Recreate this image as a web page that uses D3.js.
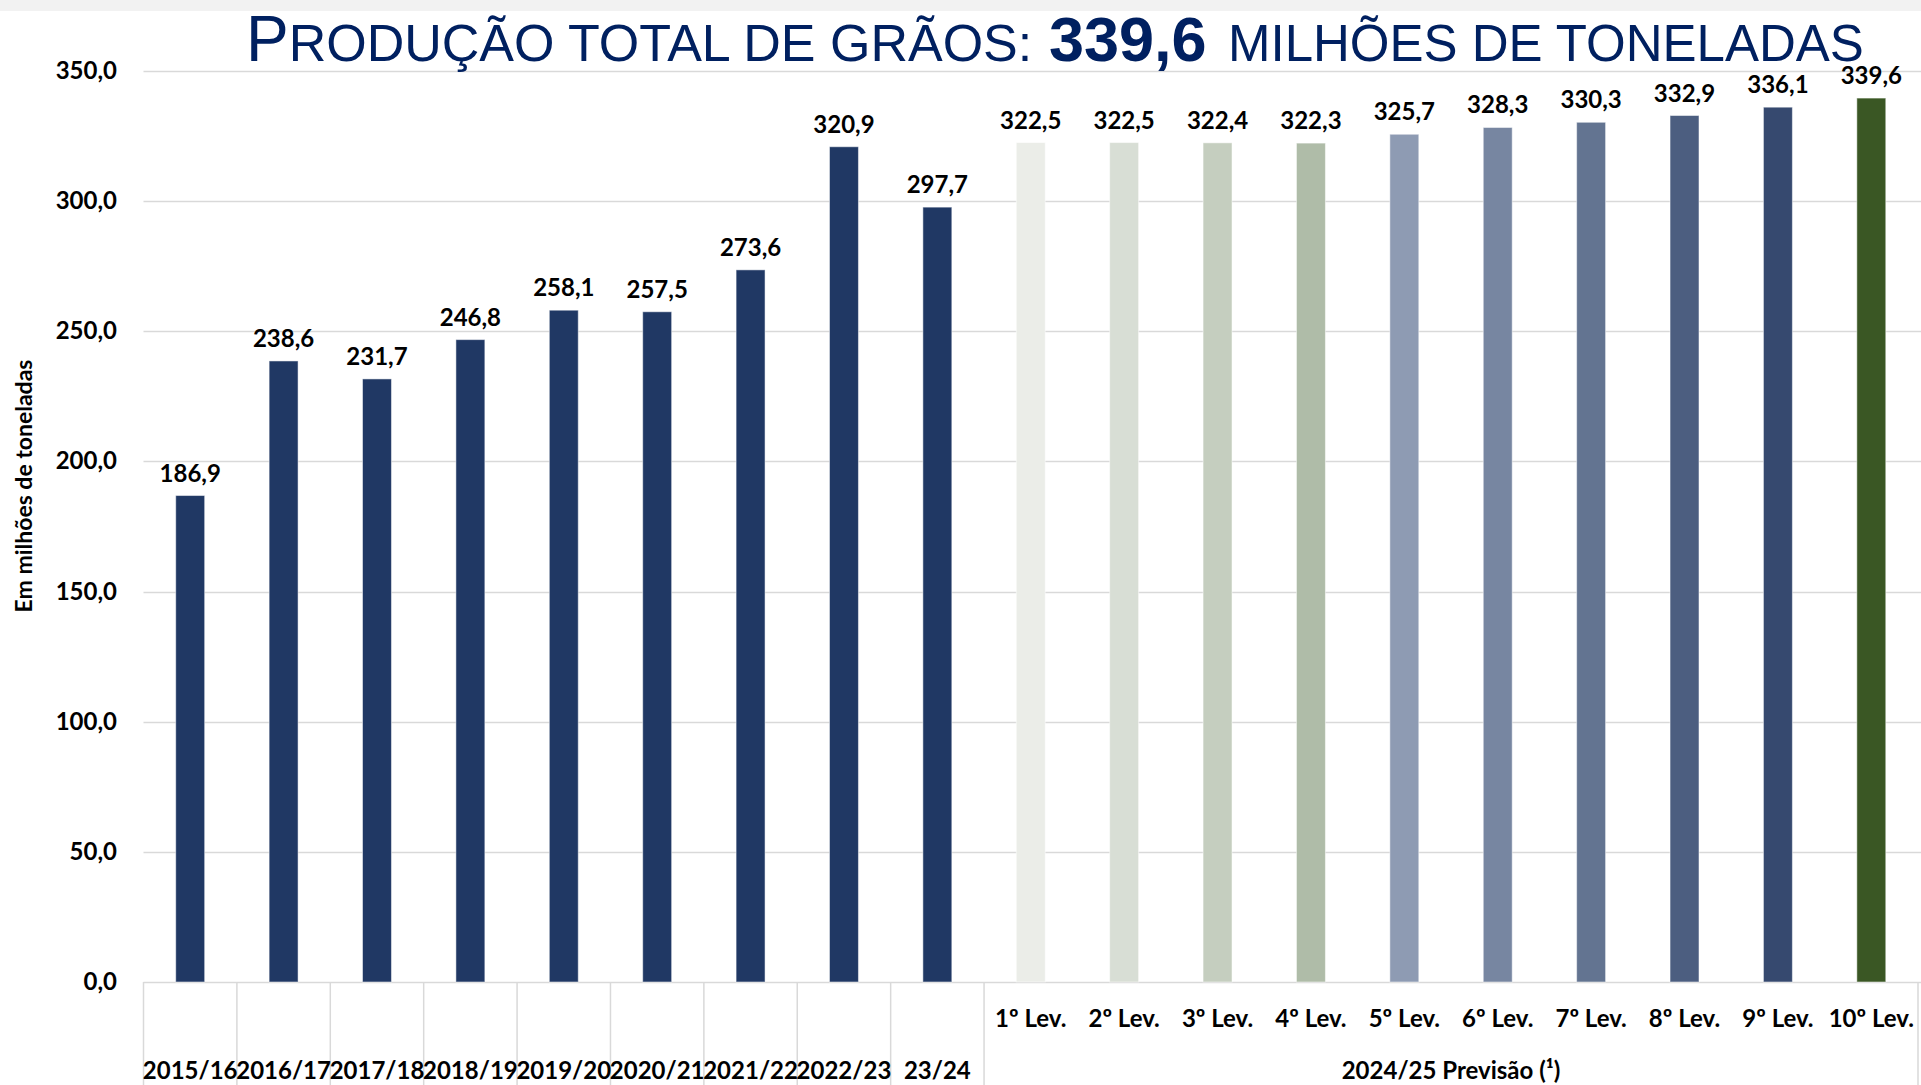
<!DOCTYPE html>
<html>
<head>
<meta charset="utf-8">
<script src="https://cdn.jsdelivr.net/npm/d3@7"></script>
<style>
  html, body { margin: 0; padding: 0; background: #fff; overflow: hidden; }
  svg { display: block; }
</style>
</head>
<body>
<svg id="chart"></svg>
<script>
// safras históricas + levantamentos 2024/25
var categories = ["2015/16", "2016/17", "2017/18", "2018/19", "2019/20", "2020/21", "2021/22", "2022/23", "23/24",
                  "1º Lev.", "2º Lev.", "3º Lev.", "4º Lev.", "5º Lev.", "6º Lev.", "7º Lev.", "8º Lev.", "9º Lev.", "10º Lev."];
var values = [186.9, 238.6, 231.7, 246.8, 258.1, 257.5, 273.6, 320.9, 297.7,
              322.5, 322.5, 322.4, 322.3, 325.7, 328.3, 330.3, 332.9, 336.1, 339.6];
var barColors = ["#203864", "#203864", "#203864", "#203864", "#203864", "#203864", "#203864", "#203864", "#203864",
                 "#EBEDE8", "#D8DED5", "#C5CEBF", "#AFBCA8", "#8E9BB3", "#7786A1", "#637491", "#4C5E80", "#36496F", "#3A5724"];
var historicCount = 9;
var groupLabel = "2024/25 Previsão (¹)";
var yTicks = [0, 50, 100, 150, 200, 250, 300, 350];

var W = 1921, H = 1085;
var svg = d3.select("#chart").attr("width", W).attr("height", H);

var fmt = function(v){ return d3.format(".1f")(v).replace(".", ","); };

var x = d3.scaleBand()
    .domain(d3.range(categories.length))
    .range([143.5, 1918])
    .padding(0);

var y = d3.scaleLinear()
    .domain([0, 350])
    .range([982, 71]);

var barW = x.bandwidth() * 0.31;

// faixa cinza no topo
svg.append("rect")
    .attr("x", 0).attr("y", 0)
    .attr("width", W).attr("height", 11)
    .attr("fill", "#F2F2F2");

// grade horizontal
svg.append("g")
    .selectAll("line")
    .data(yTicks)
    .join("line")
        .attr("x1", 143.5)
        .attr("x2", W)
        .attr("y1", function(d){ return Math.round(y(d)) + 0.5; })
        .attr("y2", function(d){ return Math.round(y(d)) + 0.5; })
        .attr("stroke", "#D9D9D9")
        .attr("stroke-width", 1.5);

// rótulos do eixo y
svg.append("g")
    .selectAll("text")
    .data(yTicks)
    .join("text")
        .attr("x", 117)
        .attr("y", function(d){ return y(d) + 8; })
        .attr("text-anchor", "end")
        .attr("font-family", "Lato, 'Open Sans', sans-serif")
        .attr("font-weight", "bold")
        .attr("font-size", 24)
        .attr("fill", "#000")
        .text(fmt);

svg.append("text")
    .attr("transform", "translate(32,486) rotate(-90)")
    .attr("text-anchor", "middle")
    .attr("font-family", "Lato, 'Open Sans', sans-serif")
    .attr("font-weight", "bold")
    .attr("font-size", 23)
    .attr("fill", "#000")
    .text("Em milhões de toneladas");

// divisórias do eixo de categorias
var dividers = d3.range(historicCount + 1).map(function(i){ return x(i); }).concat([x.range()[1]]);
svg.append("g")
    .selectAll("line")
    .data(dividers)
    .join("line")
        .attr("x1", function(d){ return d; })
        .attr("x2", function(d){ return d; })
        .attr("y1", 982)
        .attr("y2", H)
        .attr("stroke", "#D9D9D9")
        .attr("stroke-width", 1.5);

// barras
svg.append("g")
    .selectAll("rect")
    .data(values)
    .join("rect")
        .attr("x", function(d, i){ return x(i) + (x.bandwidth() - barW) / 2; })
        .attr("y", function(d){ return y(d); })
        .attr("width", barW)
        .attr("height", function(d){ return y(0) - y(d); })
        .attr("fill", function(d, i){ return barColors[i]; })
        .attr("stroke", "rgba(255,255,255,0.5)")
        .attr("stroke-width", 1);

// rótulos de dados
svg.append("g")
    .selectAll("text")
    .data(values)
    .join("text")
        .attr("x", function(d, i){ return x(i) + x.bandwidth() / 2; })
        .attr("y", function(d){ return y(d) - 14; })
        .attr("text-anchor", "middle")
        .attr("font-family", "Lato, 'Open Sans', sans-serif")
        .attr("font-weight", "bold")
        .attr("font-size", 24)
        .attr("fill", "#000")
        .text(fmt);

// rótulos de categorias
svg.append("g")
    .selectAll("text")
    .data(categories)
    .join("text")
        .attr("x", function(d, i){ return x(i) + x.bandwidth() / 2; })
        .attr("y", function(d, i){ return i < historicCount ? 1079 : 1027; })
        .attr("text-anchor", "middle")
        .attr("font-family", "Lato, 'Open Sans', sans-serif")
        .attr("font-weight", "bold")
        .attr("font-size", 24)
        .attr("fill", "#000")
        .text(function(d){ return d; });

svg.append("text")
    .attr("x", (x(historicCount) + x.range()[1]) / 2)
    .attr("y", 1079)
    .attr("text-anchor", "middle")
    .attr("font-family", "Lato, 'Open Sans', sans-serif")
    .attr("font-weight", "bold")
    .attr("font-size", 24)
    .attr("fill", "#000")
    .text(groupLabel);

// título
var title = svg.append("text")
    .attr("x", 246)
    .attr("y", 61)
    .attr("font-family", "'Liberation Sans', Arial, sans-serif")
    .attr("fill", "#002060");
title.append("tspan").attr("font-size", 64).text("P");
title.append("tspan").attr("font-size", 52).text("RODUÇÃO TOTAL DE GRÃOS:");
title.append("tspan").attr("x", 1049).attr("font-size", 63).attr("font-weight", "bold").text("339,6");
title.append("tspan").attr("x", 1228).attr("font-size", 51).text("MILHÕES DE TONELADAS");
</script>
</body>
</html>
